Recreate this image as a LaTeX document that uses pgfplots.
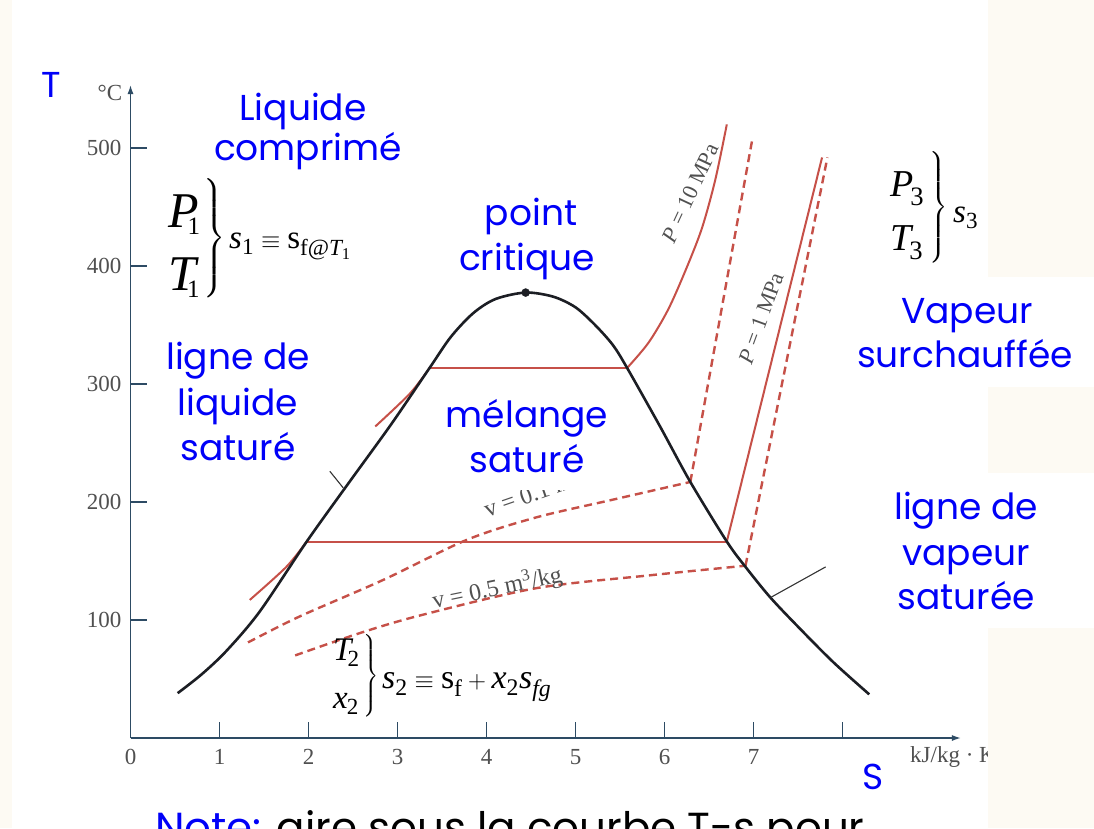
\documentclass[border=0pt]{standalone}
\usepackage{amsmath}
\usepackage{pgfplots}
\pgfplotsset{compat=1.18}
\usepackage{fontspec}
\setmainfont{Liberation Serif}
\newfontfamily\comic{Poppins}
\usetikzlibrary{arrows.meta}

\definecolor{cream}{RGB}{253,250,243}
\definecolor{lblue}{RGB}{0,0,248}
\definecolor{satred}{RGB}{198,80,72}
\definecolor{domec}{RGB}{28,30,36}
\definecolor{axisc}{RGB}{45,75,100}
\definecolor{tickc}{RGB}{80,80,80}

\newcommand{\fs}[1]{\fontsize{#1}{#1}\selectfont}
\newcommand{\iv}[1]{\text{\itshape #1}}
\newcommand{\rv}[1]{\text{\upshape #1}}
\newcommand{\grpbrace}[1]{$\left.\vcenter{\hrule height #1 width 0pt}\right\}$}

\begin{document}
\begin{tikzpicture}
\path[use as bounding box] (0,0) rectangle (1094pt,-828pt);
\fill[cream] (0,0) rectangle (1094pt,-828pt);
\fill[white] (12pt,0) rectangle (988pt,-828pt);
\fill[white] (858pt,-277pt) rectangle (1094pt,-387pt);
\fill[white] (858pt,-473pt) rectangle (1094pt,-628pt);

\begin{axis}[
  at={(130.5pt,-738pt)}, anchor=south west,
  scale only axis, width=830.4pt, height=653pt,
  xmin=0, xmax=9.33, ymin=0, ymax=553.4,
  axis lines=left,
  axis line style={line width=1.4pt, axisc, -{Latex[length=9pt,width=6pt]}},
  xtick={0,...,8}, xticklabels={0,1,2,3,4,5,6,7,{}},
  ytick={100,200,300,400,500},
  tick align=inside, major tick length=16pt,
  tick style={line width=1.2pt, axisc},
  /pgf/number format/assume math mode=true,
  x tick label style={anchor=center, yshift=-19pt, font=\fs{23}, text=tickc},
  y tick label style={anchor=east, inner sep=0pt, xshift=-9pt, font=\fs{23}, text=tickc},
  clip=false,
]
% compressed-liquid parts of the isobars
\addplot[satred, line width=2pt, smooth] coordinates {(2.75,264) (3.14,292) (3.36,313.6)};
\addplot[satred, line width=2pt, smooth] coordinates {(1.34,117) (1.75,145) (1.98,166.5)};
% constant-volume lines (dashed)
\addplot[satred, line width=2.4pt, dash pattern=on 8pt off 5pt, smooth] coordinates {
  (1.32,81) (1.90,103) (2.84,134) (3.78,168) (4.56,187) (5.42,202) (6.29,217)};
\addplot[satred, line width=2.4pt, dash pattern=on 8pt off 5pt] coordinates {(6.29,217) (6.99,509)};
\addplot[satred, line width=2.4pt, dash pattern=on 8pt off 5pt, smooth] coordinates {
  (1.85,70) (2.58,89) (3.26,104) (4.56,127) (5.85,138) (6.91,146)};
\addplot[satred, line width=2.4pt, dash pattern=on 8pt off 5pt] coordinates {(6.91,146) (7.83,492)};
% isobars: mixture plateau and superheated branch
\addplot[satred, line width=2pt] coordinates {(3.36,313.6) (5.58,313.6)};
\addplot[satred, line width=2pt, smooth] coordinates {
  (5.58,313.6) (5.82,335) (6.04,363) (6.24,397) (6.42,432) (6.57,473) (6.70,520)};
\addplot[satred, line width=2pt] coordinates {(1.98,166.5) (6.70,166.5)};
\addplot[satred, line width=2pt] coordinates {(6.70,166.5) (7.77,492)};
% saturation dome
\addplot[domec, line width=2.6pt, smooth] coordinates {
  (0.53,38) (0.80,54) (1.08,74) (1.45,107) (1.98,166.5) (2.45,216) (2.93,266)
  (3.36,313.6) (3.60,340) (3.85,360) (4.10,372) (4.44,377.5) (4.75,374) (5.00,365)
  (5.22,350) (5.42,333) (5.58,313.6) (5.95,264) (6.29,217) (6.70,166.5) (6.91,145)
  (7.19,119) (7.53,92) (7.90,64) (8.30,37)};
\addplot[only marks, mark=*, mark size=4pt, domec] coordinates {(4.44,377.5)};
% leader lines to the saturation lines
\addplot[black!80, line width=1.1pt] coordinates {(2.24,226) (2.39,212)};
\addplot[black!80, line width=1.1pt] coordinates {(7.19,119) (7.81,145)};
\end{axis}

\begin{scope}[x=1pt, y=-1pt]
% axis units
\node[text=tickc, font=\fs{23}] at (110,93) {°C};
\node[text=tickc, font=\fs{23}, anchor=west, inner sep=0pt] at (910,757) {kJ/kg · K};
\fill[cream] (988,640) rectangle (1094,828);

% curve labels
\node[text=tickc, font=\fs{22}, rotate=65] at (690,193) {\textit{P} = 10 MPa};
\node[text=tickc, font=\fs{22}, rotate=70] at (761,318) {\textit{P} = 1 MPa};
\node[text=tickc, font=\fs{24}, rotate=11.7] at (497,588) {v = 0.5 m\textsuperscript{3}/kg};
\node[text=tickc, font=\fs{24}, rotate=19, anchor=south west, inner sep=0pt] at (489,523) {v = 0.1 m\textsuperscript{3}/kg};
\fill[white] (440,385) rectangle (632,490);

% state 1
\node[anchor=base west, inner sep=0pt, font=\fs{50}] at (168,227) {$\iv{P}_{\kern-11pt\text{\fs{25}1}}$};
\node[anchor=base west, inner sep=0pt, font=\fs{50}] at (168,290) {$\iv{T}_{\kern-9pt\text{\fs{25}1}}$};
\node[inner sep=0pt, font=\fs{24}] at (214,238) {\grpbrace{110pt}};
\node[anchor=base west, inner sep=0pt, font=\fs{33}] at (229,248) {$\iv{s}_{\rv{1}}\equiv\rv{s}_{\rv{f@}\iv{T}_{\rv{1}}}$};
% state 3
\node[anchor=base west, inner sep=0pt, font=\fs{38}] at (890,196) {$\iv{P}_{\kern-3pt\rv{3}}$};
\node[anchor=base west, inner sep=0pt, font=\fs{38}] at (890,250) {$\iv{T}_{\kern-2pt\rv{3}}$};
\node[inner sep=0pt, font=\fs{20}] at (938,207) {\grpbrace{110pt}};
\node[anchor=base west, inner sep=0pt, font=\fs{33}] at (953,222) {$\iv{s}_{\rv{3}}$};
% state 2
\node[anchor=base west, inner sep=0pt, font=\fs{33}] at (333,660) {$\iv{T}_{\kern-4pt\rv{2}}$};
\node[anchor=base west, inner sep=0pt, font=\fs{33}] at (333,708) {$\iv{x}_{\kern-1pt\rv{2}}$};
\node[inner sep=0pt, font=\fs{18}] at (371,676) {\grpbrace{85pt}};
\node[anchor=base west, inner sep=0pt, font=\fs{34}] at (382,688) {$\iv{s}_{\rv{2}}\equiv\rv{s}_{\rv{f}}+\iv{x}_{\rv{2}}\iv{s}_{\iv{fg}}$};

% region names
\begin{scope}[every node/.style={text=lblue, font=\comic\fs{36}, anchor=base, inner sep=0pt}]
\node at (51,97) {T};
\node at (303,120) {Liquide};
\node at (308,160) {comprimé};
\node at (531,225) {point};
\node at (527,270) {critique};
\node at (967,323) {Vapeur};
\node at (965,367) {surchauffée};
\node at (238,369) {ligne de};
\node at (238,415) {liquide};
\node at (238,460) {saturé};
\node at (527,427) {mélange};
\node at (527,472) {saturé};
\node at (966,519) {ligne de};
\node at (966,565) {vapeur};
\node at (966,609) {saturée};
\node at (873,789) {S};
\end{scope}
\node[anchor=base west, inner sep=0pt, font=\comic\fs{42}] at (155,842) {{\color{lblue}Note:} aire sous la courbe T-s pour};
\end{scope}
\end{tikzpicture}
\end{document}
